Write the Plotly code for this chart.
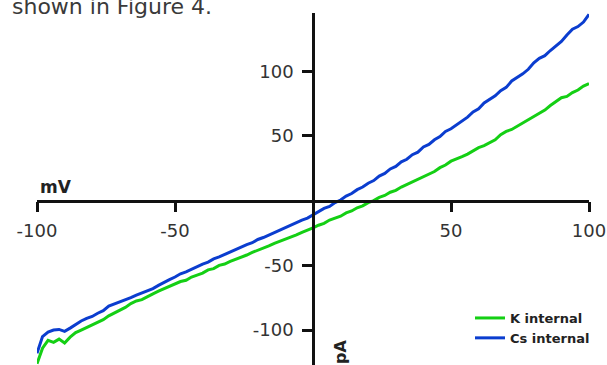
import plotly.graph_objects as go

# Command voltage (mV), 2 mV steps
voltage_mV = list(range(-100, 101, 2))

# Current with K internal (pA)
k_internal_pA = [
    -126, -114, -108, -109.5, -107, -110, -105.5, -102, -100, -98,
    -95.5, -94, -92, -89, -87, -84.5, -82.5, -79.5, -77.5, -76.5,
    -74, -72, -70, -68, -66, -64.5, -62.5, -61.5, -59, -57.5,
    -56, -53.5, -52.5, -50, -49, -47, -45.5, -43.5, -42, -40,
    -38.5, -36.5, -35, -33, -31.5, -30, -28, -26.5, -24.5, -23,
    -21,
    -19, -17.5, -15, -13.5, -12, -9.5, -8, -5.5, -4, -1.5,
    0, 2.5, 4, 6.5, 8, 10.5, 12.5, 14.5, 17, 18.5,
    21, 22.5, 25.5, 27.5, 30.5, 32, 34, 36, 38.5, 41,
    42.5, 44.5, 47, 51, 53.5, 55, 57.5, 60.5, 62.5, 65,
    68, 70, 73.5, 76.5, 79.5, 80.5, 83.5, 85.5, 88.5, 90.5,
]

# Current with Cs internal (pA)
cs_internal_pA = [
    -118, -105, -101.5, -100, -99.5, -101, -98.5, -95.5, -93, -91,
    -89.5, -87, -85, -81.5, -80, -78.5, -76.5, -75, -73, -71.5,
    -69.5, -68, -65.5, -63, -61, -59, -56.5, -55, -53, -50.5,
    -49, -47.5, -45, -43.5, -41.5, -39.5, -38, -35.5, -34, -32.5,
    -30, -28.5, -26.5, -24.5, -22.5, -21, -18.5, -17, -15, -13.5,
    -11,
    -9, -6, -4.5, -1.5, 0.5, 3.5, 5.5, 8.5, 10.5, 13.5,
    15.5, 19, 21, 24.5, 26.5, 30, 32, 35.5, 37.5, 41.5,
    43.5, 47, 49.5, 53.5, 55.5, 58.5, 62, 64.5, 68.5, 71,
    75.5, 78.5, 81, 85, 87.5, 92.5, 95, 98, 101.5, 106.5,
    110, 112, 116, 119.5, 123, 128, 132.5, 134.5, 138, 144,
]

x_tick_vals = [-100, -50, 50, 100]
x_tick_text = ["-100", "-50", "50", "100"]
y_tick_vals = [-100, -50, 50, 100]
y_tick_text = ["-100", "-50", "50", "100"]

X_RANGE = [-100, 100]
Y_RANGE = [-127, 145]

W, H = 607, 365
ML, MR, MT, MB = 37, 18, 13, 0
PW, PH = W - ML - MR, H - MT - MB


def px(x):
    return (x - ML) / PW


def py(y):
    return (H - MB - y) / PH


FONT = "DejaVu Sans"
GREEN = "#14cf14"
BLUE = "#0b3dcf"

fig = go.Figure()
fig.add_trace(go.Scatter(x=voltage_mV, y=k_internal_pA, mode="lines",
                         name="K internal", line=dict(color=GREEN, width=3)))
fig.add_trace(go.Scatter(x=voltage_mV, y=cs_internal_pA, mode="lines",
                         name="Cs internal", line=dict(color=BLUE, width=3)))

x_pos = (0 - Y_RANGE[0]) / (Y_RANGE[1] - Y_RANGE[0])
y_pos = (0 - X_RANGE[0]) / (X_RANGE[1] - X_RANGE[0])

fig.update_layout(
    width=W, height=H,
    margin=dict(l=ML, r=MR, t=MT, b=MB, pad=0),
    paper_bgcolor="white", plot_bgcolor="white",
    font=dict(family=FONT, color="#333333"),
    xaxis=dict(range=X_RANGE, anchor="free", position=x_pos, side="bottom",
               showgrid=False, zeroline=False, showline=True,
               linecolor="#111111", linewidth=2.5,
               ticks="outside", ticklen=10, tickwidth=2.5, tickcolor="#111111",
               ticklabelstandoff=3,
               tickvals=x_tick_vals, ticktext=x_tick_text,
               tickfont=dict(size=18, color="#333333", family=FONT)),
    yaxis=dict(range=Y_RANGE, anchor="free", position=y_pos, side="left",
               showgrid=False, zeroline=False, showline=True,
               linecolor="#111111", linewidth=2.5,
               ticks="outside", ticklen=10, tickwidth=2.5, tickcolor="#111111",
               ticklabelstandoff=5,
               tickvals=y_tick_vals, ticktext=y_tick_text,
               tickfont=dict(size=18, color="#333333", family=FONT)),
    showlegend=True,
    legend=dict(x=px(470), y=py(303), xanchor="left", yanchor="top",
                bgcolor="rgba(0,0,0,0)", tracegroupgap=0,
                font=dict(family=FONT, size=13, color="#222222", weight="bold")),
    annotations=[
        dict(text="shown in Figure 4.", xref="paper", yref="paper",
             x=px(10), y=py(6), xanchor="left", yanchor="middle",
             showarrow=False, font=dict(family=FONT, size=22, color="#3a3a3a")),
        dict(text="<b>mV</b>", xref="paper", yref="paper",
             x=px(56), y=py(187), xanchor="center", yanchor="middle",
             showarrow=False, font=dict(family=FONT, size=17, color="#222222")),
        dict(text="<b>pA</b>", xref="paper", yref="paper",
             x=px(340), y=py(352), xanchor="center", yanchor="middle",
             textangle=-90,
             showarrow=False, font=dict(family=FONT, size=16, color="#222222")),
    ],
)

fig.write_html("out.html")
